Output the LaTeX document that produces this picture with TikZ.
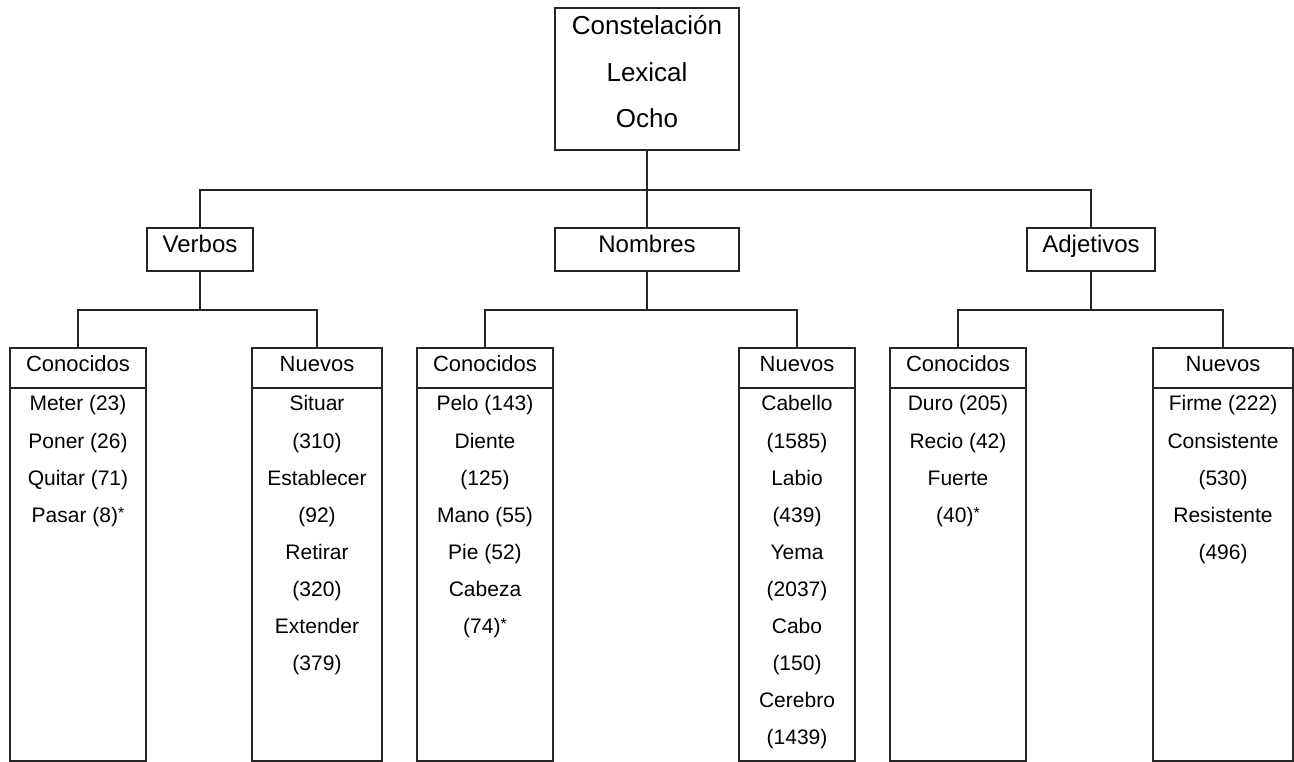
\documentclass[tikz,border=0pt]{standalone}
\usepackage{fontspec}
\setmainfont{Liberation Sans}
\usetikzlibrary{fit}
\newcommand{\myast}{\raisebox{0.15em}{\fontsize{12}{12}\selectfont *}}
\begin{document}
\begin{tikzpicture}[x=0.75pt,y=-0.75pt,
  box/.style={draw=black!85, line width=0.9pt, rectangle, inner sep=0pt},
  conn/.style={draw=black!85, line width=0.9pt},
  topt/.style={anchor=base, inner sep=0pt, font=\fontsize{19.5}{23}\selectfont},
  lvlt/.style={anchor=base, inner sep=0pt, font=\fontsize{18}{22}\selectfont},
  hdrt/.style={anchor=base, inner sep=0pt, font=\fontsize{16.5}{20}\selectfont},
  itmt/.style={anchor=base, inner sep=0pt, font=\fontsize{15.75}{19}\selectfont}]
\fill[white] (0,0) rectangle (1294,762);
\useasboundingbox (0,0) rectangle (1294,762);

% top box
\node[box, fit={(555,8) (739,150)}] (top) {};
\node[topt] (t1) at (647,35) {Constelación};
\node[topt] (t2) at (647,82) {Lexical};
\node[topt] (t3) at (647,128) {Ocho};

% level 2
\node[box, fit={(147,228) (253,271)}] (verb) {};
\node[box, fit={(555,228) (739,271)}] (nom) {};
\node[box, fit={(1027,228) (1155,271)}] (adj) {};
\node[lvlt] (verbt) at (200,253) {Verbos};
\node[lvlt] (nomt) at (647,253) {Nombres};
\node[lvlt] (adjt) at (1091,253) {Adjetivos};

% level 3 headers and bodies
\node[box, fit={(10,348) (146,388)}] (vch) {};
\node[box, fit={(10,388) (146,761)}] (vcb) {};
\node[box, fit={(252,348) (382,388)}] (vnh) {};
\node[box, fit={(252,388) (382,761)}] (vnb) {};
\node[box, fit={(417,348) (553,388)}] (nch) {};
\node[box, fit={(417,388) (553,761)}] (ncb) {};
\node[box, fit={(739,348) (855,388)}] (nnh) {};
\node[box, fit={(739,388) (855,761)}] (nnb) {};
\node[box, fit={(890,348) (1026,388)}] (ach) {};
\node[box, fit={(890,388) (1026,761)}] (acb) {};
\node[box, fit={(1153,348) (1293,388)}] (anh) {};
\node[box, fit={(1153,388) (1293,761)}] (anb) {};

\node[hdrt] (vcht) at (78,372) {Conocidos};
\node[hdrt] (vnht) at (317,372) {Nuevos};
\node[hdrt] (ncht) at (485,372) {Conocidos};
\node[hdrt] (nnht) at (797,372) {Nuevos};
\node[hdrt] (acht) at (958,372) {Conocidos};
\node[hdrt] (anht) at (1223,372) {Nuevos};

\foreach \t [count=\i] in {{Meter (23)},{Poner (26)},{Quitar (71)},{Pasar (8)\myast}}
  \node[itmt] (vc\i) at (78,374+37*\i) {\t};
\foreach \t [count=\i] in {{Situar},{(310)},{Establecer},{(92)},{Retirar},{(320)},{Extender},{(379)}}
  \node[itmt] (vn\i) at (317,374+37*\i) {\t};
\foreach \t [count=\i] in {{Pelo (143)},{Diente},{(125)},{Mano (55)},{Pie (52)},{Cabeza},{(74)\myast}}
  \node[itmt] (nc\i) at (485,374+37*\i) {\t};
\foreach \t [count=\i] in {{Cabello},{(1585)},{Labio},{(439)},{Yema},{(2037)},{Cabo},{(150)},{Cerebro},{(1439)}}
  \node[itmt] (nn\i) at (797,374+37*\i) {\t};
\foreach \t [count=\i] in {{Duro (205)},{Recio (42)},{Fuerte},{(40)\myast}}
  \node[itmt] (ac\i) at (958,374+37*\i) {\t};
\foreach \t [count=\i] in {{Firme (222)},{Consistente},{(530)},{Resistente},{(496)}}
  \node[itmt] (an\i) at (1223,374+37*\i) {\t};

% connectors
\coordinate (l2) at (647,190);
\coordinate (l3) at (0,310);
\draw[conn] (top.south) -- (nom.north);
\draw[conn] (verb.north) |- (l2) -| (adj.north);
\draw[conn] (verb.south) -- (verb.south |- l3);
\draw[conn] (vch.north) |- (verb.south |- l3) -| (vnh.north);
\draw[conn] (nom.south) -- (nom.south |- l3);
\draw[conn] (nch.north) |- (nom.south |- l3) -| (nnh.north);
\draw[conn] (adj.south) -- (adj.south |- l3);
\draw[conn] (ach.north) |- (adj.south |- l3) -| (anh.north);
\end{tikzpicture}
\end{document}
